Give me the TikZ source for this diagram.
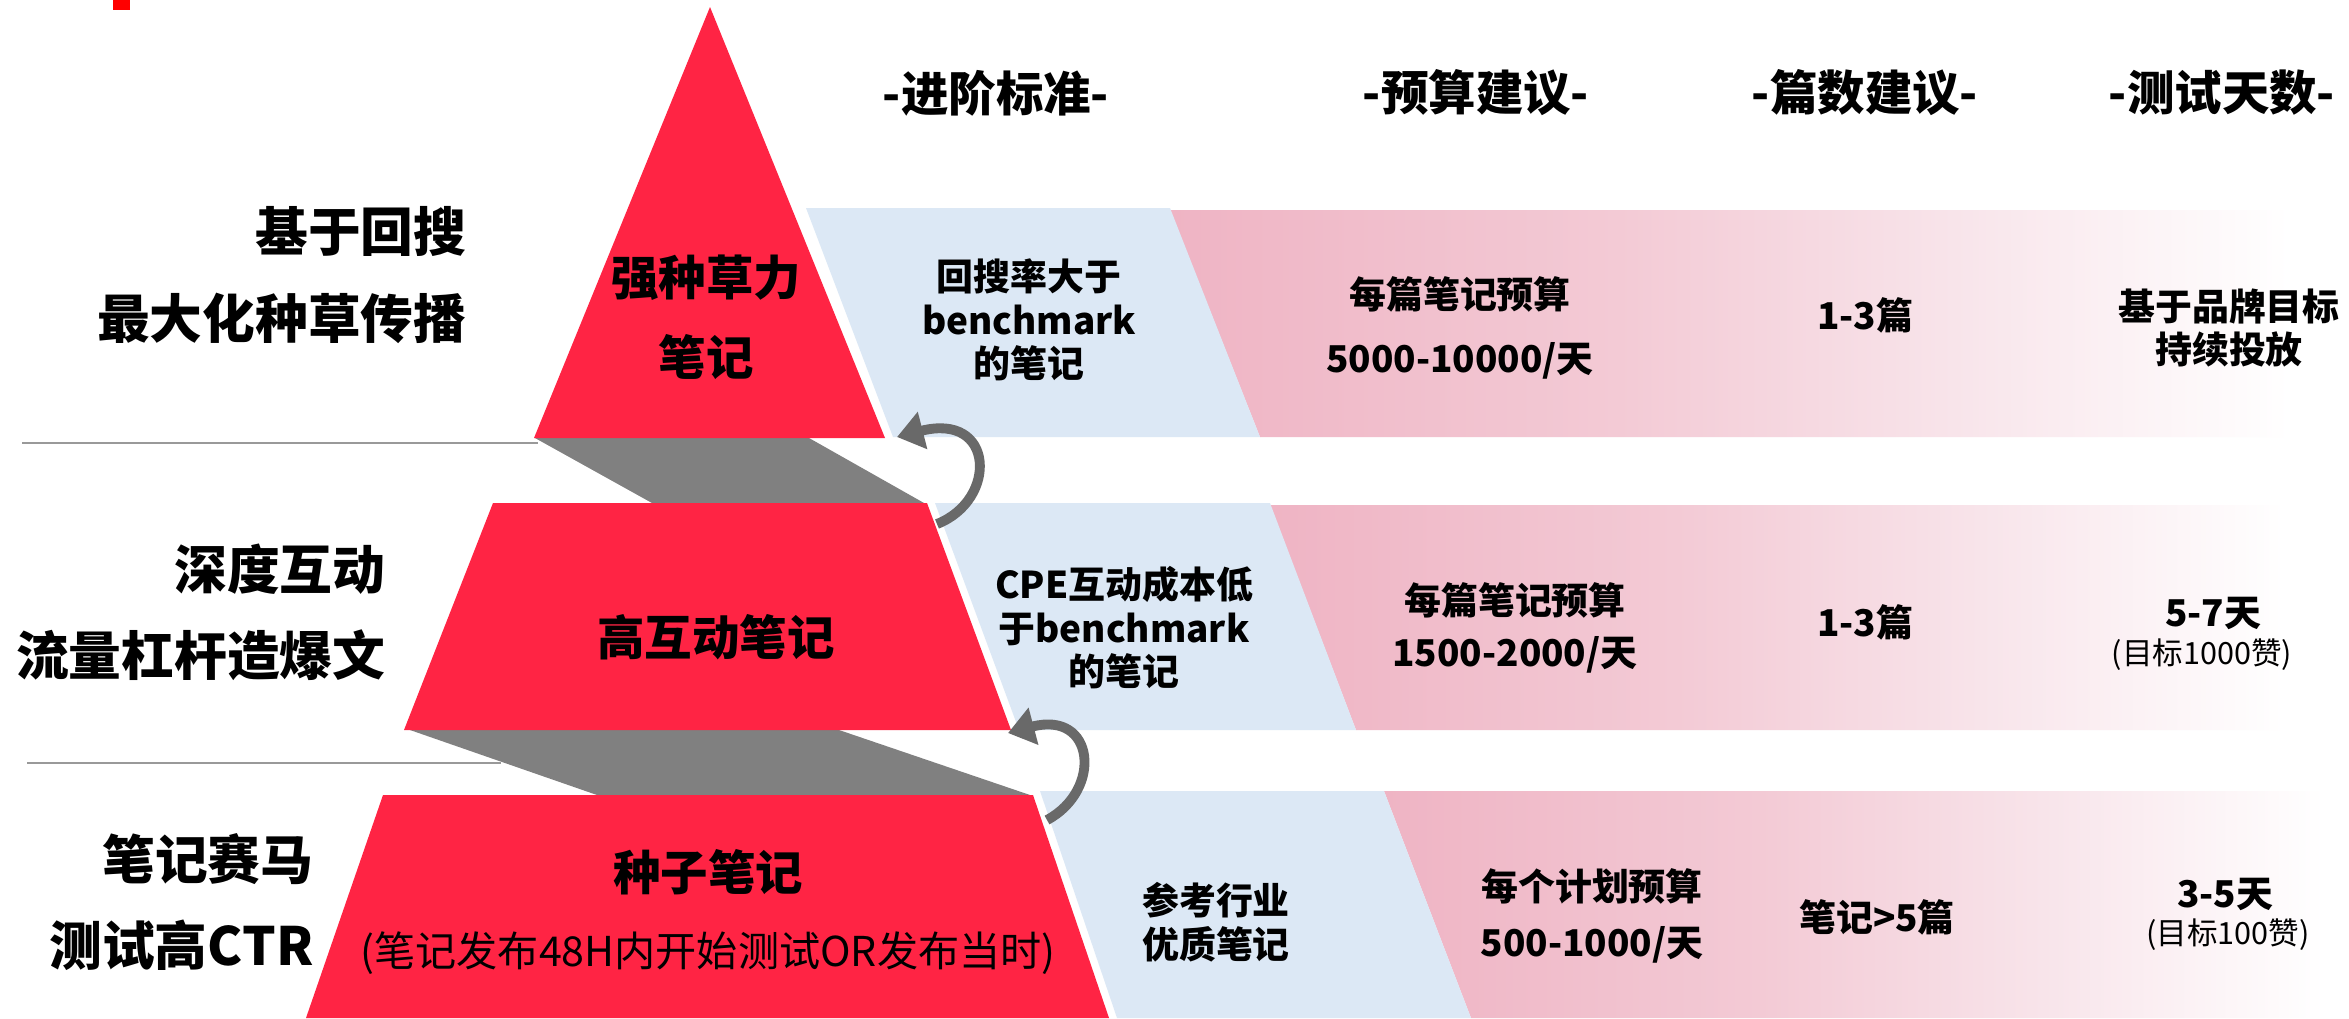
\documentclass[tikz,border=0pt]{standalone}
\usepackage{fontspec}
\setmainfont{Noto Sans CJK SC}[BoldFont={Noto Sans CJK SC Black}]
\usetikzlibrary{arrows.meta}
\definecolor{pyr}{RGB}{255,36,68}
\definecolor{lblue}{RGB}{220,232,245}
\definecolor{pinkA}{RGB}{239,180,196}
\definecolor{pinkB}{RGB}{243,202,213}
\definecolor{pinkC}{RGB}{248,228,234}
\definecolor{conn}{RGB}{128,128,128}
\definecolor{arrgray}{RGB}{105,105,105}
\definecolor{topred}{RGB}{255,0,0}
\pgfdeclarehorizontalshading{pinkfade}{100bp}{color(0bp)=(pinkA); color(25bp)=(pinkA); color(45bp)=(pinkB); color(60bp)=(pinkC); color(75bp)=(white); color(100bp)=(white)}
\tikzset{
  sidelabel/.style={font=\fontsize{15pt}{24.5pt}\selectfont\bfseries, align=right, anchor=east, inner sep=0pt},
  header/.style={font=\fontsize{13.5pt}{16pt}\selectfont\bfseries, inner sep=0pt},
  pyrtext/.style={font=\fontsize{13.5pt}{22.8pt}\selectfont\bfseries, align=center, inner sep=0pt},
  subtext/.style={font=\fontsize{11.7pt}{13pt}\selectfont, inner sep=0pt},
  bodytext/.style={font=\fontsize{10.5pt}{12.4pt}\selectfont\bfseries, align=center, inner sep=0pt},
  smalltext/.style={font=\fontsize{8.7pt}{10pt}\selectfont, inner sep=0pt},
  sepline/.style={draw=conn!80!white, line width=0.8pt},
  curarrow/.style={draw=arrgray, line width=2.8pt, -{Triangle[length=7.5pt,width=10.5pt]}},
}
\begin{document}
\begin{tikzpicture}[x=0.01cm,y=-0.01cm]
\useasboundingbox (0,0) rectangle (2349,1018);
\fill[white] (0,0) rectangle (2349,1018);
% small red mark at the top
\fill[topred] (113,0) rectangle (130,10);

% pink bands (gradient)
\shade[shading=pinkfade] (1170,210) -- (2290,210) -- (2290,437) -- (1260,437) -- cycle;
\shade[shading=pinkfade] (1270,505) -- (2285,505) -- (2285,730) -- (1356,730) -- cycle;
\shade[shading=pinkfade] (1384,791) -- (2325,791) -- (2325,1018) -- (1471,1018) -- cycle;

% blue bands
\fill[lblue] (806,208) -- (1170,208) -- (1260,437) -- (893,437) -- cycle;
\fill[lblue] (935,503) -- (1270,503) -- (1356,730) -- (1019,730) -- cycle;
\fill[lblue] (1040,791) -- (1384,791) -- (1471,1018) -- (1117,1018) -- cycle;

% separator lines
\draw[sepline] (22,443) -- (538,443);
\draw[sepline] (27,763) -- (501,763);

% gray connecting slabs
\fill[conn] (535,438) -- (809,438) -- (924,503) -- (652,503) -- cycle;
\fill[conn] (410,730) -- (839,730) -- (1030,795) -- (597,795) -- cycle;

% pyramid levels
\fill[pyr] (710,7) -- (885,438) -- (534,438) -- cycle;
\fill[pyr] (493,503) -- (927,503) -- (1011,730) -- (404,730) -- cycle;
\fill[pyr] (383,795) -- (1033,795) -- (1109,1018) -- (306,1018) -- cycle;

% curved arrows
\coordinate (a1t) at (937,524);
\coordinate (a1h) at (897,437);
\coordinate (a2t) at (1047,820);
\coordinate (a2h) at (1008,733);
\draw[curarrow] (a1t) .. controls (998,500) and (995,412) .. (a1h);
\draw[curarrow] (a2t) .. controls (1103,790) and (1095,710) .. (a2h);

% headers
\node[header] (h1) at (996,93) {-进阶标准-};
\node[header] (h2) at (1476,93) {-预算建议-};
\node[header] (h3) at (1865,93) {-篇数建议-};
\node[header] (h4) at (2222,93) {-测试天数-};

% side labels
\node[sidelabel] (s1) at (467,275) {基于回搜\\最大化种草传播};
\node[sidelabel] (s2) at (386,612) {深度互动\\流量杠杆造爆文};
\node[sidelabel] (s3) at (314,902) {笔记赛马\\测试高CTR};

% pyramid texts
\node[pyrtext] (p1) at (706,317) {强种草力\\笔记};
\node[pyrtext] (p2) at (716,637) {高互动笔记};
\node[pyrtext] (p3) at (708,872) {种子笔记};
\node[subtext] (p3s) at (708,953) {(笔记发布48H内开始测试OR发布当时)};

% blue column
\node[bodytext] (b1) at (1029,320) {回搜率大于\\benchmark\\的笔记};
\node[bodytext] (b2) at (1124,628) {CPE互动成本低\\于benchmark\\的笔记};
\node[bodytext] (b3) at (1216,922) {参考行业\\优质笔记};

% budget column
\node[bodytext, font=\fontsize{10.5pt}{18pt}\selectfont\bfseries] (m1) at (1460,328) {每篇笔记预算\\5000-10000/天};
\node[bodytext, font=\fontsize{10.5pt}{15pt}\selectfont\bfseries] (m2) at (1515,628) {每篇笔记预算\\1500-2000/天};
\node[bodytext, font=\fontsize{10.5pt}{16pt}\selectfont\bfseries] (m3) at (1592,916) {每个计划预算\\500-1000/天};

% count column
\node[bodytext] (c1) at (1865,315) {1-3篇};
\node[bodytext] (c2) at (1865,622) {1-3篇};
\node[bodytext] (c3) at (1877,917) {笔记>5篇};

% days column
\node[bodytext] (d1) at (2229,328) {基于品牌目标\\持续投放};
\node[bodytext] (d2) at (2213,613) {5-7天};
\node[smalltext] (d2s) at (2202,655) {(目标1000赞)};
\node[bodytext] (d3) at (2225,894) {3-5天};
\node[smalltext] (d3s) at (2228,935) {(目标100赞)};
\end{tikzpicture}
\end{document}
